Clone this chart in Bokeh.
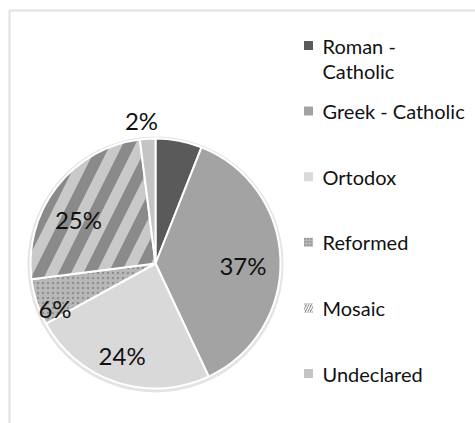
import numpy as np
from bokeh.plotting import figure
from bokeh.models import BoxAnnotation, ColumnDataSource
from bokeh.core.properties import value
from bokeh.embed import file_html
from bokeh.resources import INLINE

# ---- data ----
categories = ["Roman -\nCatholic", "Greek - Catholic", "Ortodox", "Reformed", "Mosaic", "Undeclared"]
shares = [6, 37, 24, 6, 25, 2]
show_label = [False, True, True, True, True, True]

# ---- styles ----
fills = ["#5a5a5a", "#a3a3a3", "#d9d9d9", "#b8b8b8", "#8a8a8a", "#c4c4c4"]
hatches = [" ", " ", " ", "dot", "/", " "]
hatch_colors = ["#5a5a5a", "#a3a3a3", "#d9d9d9", "#747474", "#f4f4f4", "#c4c4c4"]
hatch_scales = [12, 12, 12, 5, 50, 12]
hatch_weights = [1, 1, 1, 2.2, 11, 1]
legend_hatch_scales = [6, 6, 6, 3, 5, 6]
legend_hatch_weights = [1, 1, 1, 1.2, 1.5, 1]
label_r = [0.75, 0.70, 0.78, 0.88, 0.71, 1.15]
label_dang = [0, -3, -2, 6, 8, 2]  # degrees

FONT = "Lato"
W, H = 475, 423
cx, cy, R = 155, H - 263, 125

p = figure(width=W, height=H, x_range=(0, W), y_range=(0, H),
           output_backend="svg", toolbar_location=None, min_border=0,
           x_axis_type=None, y_axis_type=None)
p.grid.visible = False
p.outline_line_color = None
p.background_fill_color = "white"
p.border_fill_color = "white"

# chart area frame
p.add_layout(BoxAnnotation(left=9, right=W + 20, bottom=-20, top=H - 10,
                           fill_alpha=0, line_color="#999999", line_width=2))

vals = np.array(shares, dtype=float)
frac = vals / vals.sum()
cum = np.concatenate([[0], np.cumsum(frac)])
start = np.pi / 2 - 2 * np.pi * cum[:-1]
end = np.pi / 2 - 2 * np.pi * cum[1:]
mid = (start + end) / 2

src = ColumnDataSource(dict(
    start=start, end=end, fill=fills, hatch=hatches, hcol=hatch_colors,
    hscale=hatch_scales, hweight=hatch_weights,
))

# soft shadow
p.circle(x=cx, y=cy - 1, radius=R + 3, fill_color="#e4e4e4", line_color=None)
p.wedge(x=cx, y=cy, radius=R, start_angle="start", end_angle="end", direction="clock",
        fill_color="fill", hatch_pattern="hatch", hatch_color="hcol",
        hatch_scale="hscale", hatch_weight="hweight", hatch_alpha=0.6,
        line_color="white", line_width=2, source=src)

# data labels
lx, ly, lt = [], [], []
for i, v in enumerate(shares):
    if show_label[i]:
        a = mid[i] + np.deg2rad(label_dang[i])
        lx.append(cx + label_r[i] * R * np.cos(a))
        ly.append(cy + label_r[i] * R * np.sin(a))
        lt.append(f"{v}%")
p.text(x=lx, y=ly, text=lt, text_font=value(FONT), text_font_size="24px",
       text_color="#111111", text_align="center", text_baseline="middle")

# legend
leg_x, leg_top, leg_step, line_h = 308, H - 45, 65.6, 25
sq = ColumnDataSource(dict(
    x=[leg_x] * len(categories),
    y=[leg_top - i * leg_step for i in range(len(categories))],
    fill=fills, hatch=hatches, hcol=hatch_colors,
    hscale=legend_hatch_scales, hweight=legend_hatch_weights,
))
p.rect(x="x", y="y", width=9, height=9, fill_color="fill", hatch_pattern="hatch",
       hatch_color="hcol", hatch_scale="hscale", hatch_weight="hweight",
       line_color=None, source=sq)
tx, ty, tt = [], [], []
for i, c in enumerate(categories):
    for j, line in enumerate(c.split("\n")):
        tx.append(leg_x + 14)
        ty.append(leg_top - i * leg_step - j * line_h)
        tt.append(line)
p.text(x=tx, y=ty, text=tt, text_font=value(FONT), text_font_size="20px",
       text_color="#111111", text_align="left", text_baseline="middle")

open("out.html", "w").write(file_html(p, INLINE))
